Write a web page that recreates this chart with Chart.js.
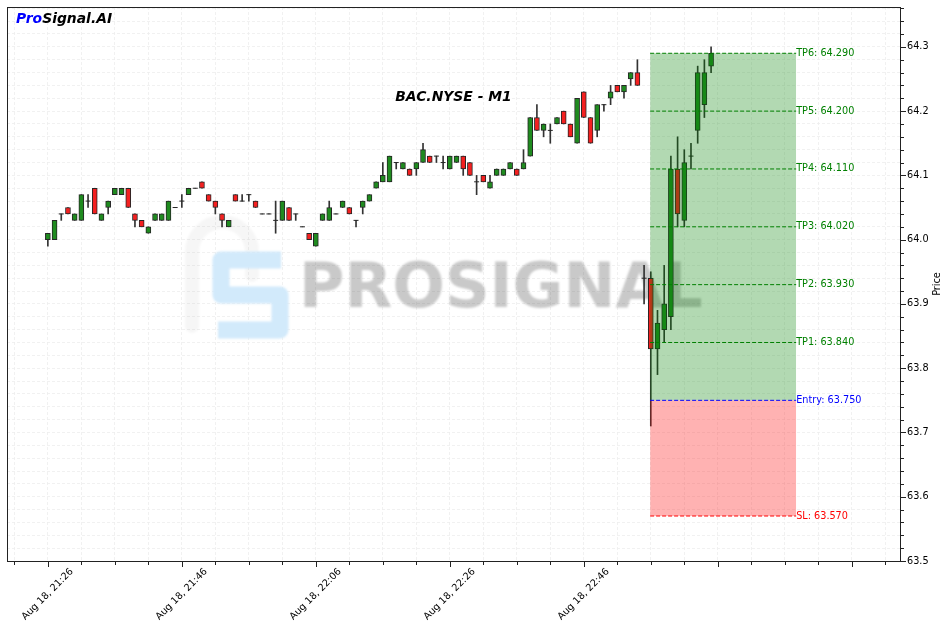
<!DOCTYPE html>
<html>
<head>
<meta charset="utf-8">
<script src="https://cdn.jsdelivr.net/npm/chart.js@4/dist/chart.umd.min.js"></script>
<style>
  html, body { margin: 0; padding: 0; background: #fff; }
</style>
</head>
<body>
<canvas id="grafico" width="950" height="632"></canvas>
<script>
// Datos de las velas (una por minuto desde Aug 18, 21:26)
const titulo = 'BAC.NYSE - M1';
const aperturas = [
  64.00, 64.00, 64.04, 64.05, 64.03, 64.03, 64.06, 64.08, 64.03, 64.05,
  64.07, 64.07, 64.08, 64.04, 64.03, 64.01, 64.03, 64.03, 64.03, 64.05,
  64.06, 64.07, 64.08, 64.09, 64.07, 64.06, 64.04, 64.02, 64.07, 64.06,
  64.07, 64.06, 64.04, 64.04, 64.03, 64.03, 64.05, 64.04, 64.02, 64.01,
  63.99, 64.03, 64.03, 64.04, 64.05, 64.05, 64.03, 64.05, 64.06, 64.08,
  64.09, 64.09, 64.12, 64.11, 64.11, 64.11, 64.12, 64.13, 64.13, 64.12,
  64.11, 64.12, 64.13, 64.12, 64.09, 64.10, 64.08, 64.10, 64.10, 64.11,
  64.11, 64.11, 64.13, 64.19, 64.17, 64.17, 64.18, 64.20, 64.18, 64.15,
  64.23, 64.19, 64.17, 64.21, 64.22, 64.24, 64.23, 64.25, 64.26, 63.94,
  63.94, 63.83, 63.86, 63.88, 64.11, 64.03, 64.13, 64.17, 64.21, 64.27
];
const maximos = [
  64.01, 64.03, 64.04, 64.05, 64.04, 64.07, 64.07, 64.08, 64.04, 64.06,
  64.08, 64.08, 64.08, 64.04, 64.03, 64.02, 64.04, 64.04, 64.06, 64.05,
  64.07, 64.08, 64.08, 64.09, 64.07, 64.06, 64.04, 64.03, 64.07, 64.07,
  64.07, 64.06, 64.04, 64.04, 64.06, 64.06, 64.05, 64.04, 64.02, 64.01,
  64.01, 64.04, 64.06, 64.04, 64.06, 64.05, 64.03, 64.06, 64.07, 64.09,
  64.12, 64.13, 64.12, 64.12, 64.11, 64.12, 64.15, 64.13, 64.13, 64.13,
  64.13, 64.13, 64.13, 64.12, 64.10, 64.10, 64.10, 64.11, 64.11, 64.12,
  64.11, 64.14, 64.19, 64.21, 64.18, 64.18, 64.19, 64.20, 64.18, 64.22,
  64.23, 64.19, 64.21, 64.21, 64.24, 64.24, 64.24, 64.26, 64.28, 63.96,
  63.95, 63.89, 63.96, 64.13, 64.16, 64.14, 64.15, 64.27, 64.28, 64.30
];
const minimos = [
  63.99, 64.00, 64.03, 64.04, 64.03, 64.03, 64.05, 64.04, 64.03, 64.04,
  64.07, 64.07, 64.05, 64.02, 64.02, 64.01, 64.03, 64.03, 64.03, 64.05,
  64.05, 64.07, 64.08, 64.08, 64.06, 64.04, 64.02, 64.02, 64.06, 64.06,
  64.06, 64.05, 64.04, 64.04, 64.01, 64.03, 64.03, 64.03, 64.02, 64.00,
  63.99, 64.03, 64.03, 64.04, 64.05, 64.04, 64.02, 64.04, 64.06, 64.08,
  64.09, 64.09, 64.11, 64.11, 64.10, 64.10, 64.12, 64.12, 64.12, 64.11,
  64.11, 64.12, 64.10, 64.10, 64.07, 64.09, 64.08, 64.10, 64.10, 64.11,
  64.10, 64.11, 64.13, 64.17, 64.16, 64.15, 64.18, 64.18, 64.16, 64.15,
  64.19, 64.15, 64.16, 64.20, 64.21, 64.23, 64.22, 64.24, 64.24, 63.90,
  63.71, 63.79, 63.84, 63.86, 64.02, 64.02, 64.11, 64.15, 64.19, 64.26
];
const cierres = [
  64.01, 64.03, 64.04, 64.04, 64.04, 64.07, 64.06, 64.04, 64.04, 64.06,
  64.08, 64.08, 64.05, 64.03, 64.02, 64.02, 64.04, 64.04, 64.06, 64.05,
  64.06, 64.08, 64.08, 64.08, 64.06, 64.05, 64.03, 64.03, 64.06, 64.06,
  64.07, 64.05, 64.04, 64.04, 64.03, 64.06, 64.03, 64.04, 64.02, 64.00,
  64.01, 64.04, 64.05, 64.04, 64.06, 64.04, 64.03, 64.06, 64.07, 64.09,
  64.10, 64.13, 64.12, 64.12, 64.10, 64.12, 64.14, 64.12, 64.13, 64.12,
  64.13, 64.13, 64.11, 64.10, 64.09, 64.09, 64.09, 64.11, 64.11, 64.12,
  64.10, 64.12, 64.19, 64.17, 64.18, 64.17, 64.19, 64.18, 64.16, 64.22,
  64.19, 64.15, 64.21, 64.21, 64.23, 64.23, 64.24, 64.26, 64.24, 63.94,
  63.83, 63.87, 63.90, 64.11, 64.04, 64.12, 64.13, 64.26, 64.26, 64.29
];

// Niveles de la señal
const nivelesNombre = ['TP6', 'TP5', 'TP4', 'TP3', 'TP2', 'TP1', 'Entry', 'SL'];
const nivelesPrecio = [64.29, 64.20, 64.11, 64.02, 63.93, 63.84, 63.75, 63.57];
const zonaInicio = 89.9;   // minutos desde 21:26
const zonaFin = 111.7;

// Ejes
const minutosEtiqueta = [0, 20, 40, 60, 80];
const etiquetasTiempo = ['Aug 18, 21:26', 'Aug 18, 21:46', 'Aug 18, 22:06', 'Aug 18, 22:26', 'Aug 18, 22:46'];
const ticksPrecio = [63.5, 63.6, 63.7, 63.8, 63.9, 64.0, 64.1, 64.2, 64.3];

const VERDE = '#1f8b1f';
const ROJO = '#f42020';
const FUENTE = 'DejaVu Sans';

function colorNivel(nombre) {
    if (nombre === 'Entry') return '#0000ff';
    if (nombre === 'SL') return '#ff0000';
    return '#008000';
}

const indices = aperturas.map((_, i) => i);
const mechas = indices.map(i => ({ x: i, y: [minimos[i], maximos[i]] }));
const conCuerpo = indices.filter(i => aperturas[i] !== cierres[i]);
const cuerpos = conCuerpo.map(i => ({ x: i, y: [Math.min(aperturas[i], cierres[i]), Math.max(aperturas[i], cierres[i])] }));
const coloresCuerpo = conCuerpo.map(i => cierres[i] > aperturas[i] ? VERDE : ROJO);
const dojis = indices.filter(i => aperturas[i] === cierres[i]).map(i => ({ x: i, y: aperturas[i] }));

const idxEntry = nivelesNombre.indexOf('Entry');
const idxSL = nivelesNombre.indexOf('SL');
const precioEntry = nivelesPrecio[idxEntry];
const precioTPmax = Math.max(...nivelesPrecio);

const datasets = [
    { type: 'bar', data: mechas, backgroundColor: '#333', barThickness: 1, grouped: false, order: 6 },
    { type: 'bar', data: cuerpos, backgroundColor: coloresCuerpo, borderColor: '#262626', borderWidth: 1,
      borderSkipped: false, barThickness: 5, grouped: false, order: 5 },
    { type: 'line', data: dojis, showLine: false, pointStyle: 'line', pointRadius: 2.5,
      pointBorderWidth: 1, pointBorderColor: '#262626', order: 5 },
    // zona de ganancia y de pérdida
    { type: 'line', data: [{ x: zonaInicio, y: precioTPmax }, { x: zonaFin, y: precioTPmax }],
      fill: { value: precioEntry }, backgroundColor: 'rgba(0,128,0,0.3)', borderWidth: 0, pointRadius: 0, order: 3 },
    { type: 'line', data: [{ x: zonaInicio, y: precioEntry }, { x: zonaFin, y: precioEntry }],
      fill: { value: nivelesPrecio[idxSL] }, backgroundColor: 'rgba(255,0,0,0.3)', borderWidth: 0, pointRadius: 0, order: 3 }
];
nivelesNombre.forEach((nombre, k) => {
    datasets.push({
        type: 'line',
        data: [{ x: zonaInicio, y: nivelesPrecio[k] }, { x: zonaFin, y: nivelesPrecio[k] }],
        borderColor: colorNivel(nombre), borderWidth: 1, borderDash: [4, 2], pointRadius: 0, fill: false, order: 1
    });
});

// Marca de agua, textos, marco y ticks
const decoracion = {
    id: 'decoracion',
    beforeDatasetsDraw(chart) {
        const ctx = chart.ctx;
        ctx.save();
        ctx.filter = 'blur(1px)';
        // logo
        ctx.lineCap = 'round';
        ctx.lineJoin = 'round';
        ctx.strokeStyle = 'rgba(0,0,0,0.035)';
        ctx.lineWidth = 14;
        ctx.beginPath();
        ctx.moveTo(192, 326);
        ctx.lineTo(192, 252);
        ctx.arc(222, 252, 30, Math.PI, 0);
        ctx.lineTo(252, 275);
        ctx.stroke();
        ctx.strokeStyle = '#d2eafb';
        ctx.lineWidth = 17;
        ctx.lineCap = 'butt';
        ctx.beginPath();
        ctx.moveTo(281, 260);
        ctx.lineTo(221, 260);
        ctx.lineTo(221, 295);
        ctx.lineTo(280, 295);
        ctx.lineTo(280, 330);
        ctx.lineTo(218, 330);
        ctx.stroke();
        // texto
        ctx.fillStyle = 'rgba(90,90,90,0.33)';
        ctx.font = `bold 62px "${FUENTE}"`;
        ctx.textBaseline = 'alphabetic';
        ctx.textAlign = 'left';
        ctx.fillText('PROSIGNAL', 299, 307);
        ctx.restore();
    },
    afterDatasetsDraw(chart) {
        const { ctx, chartArea, scales } = chart;
        ctx.save();
        ctx.font = `9.7px "${FUENTE}"`;
        ctx.textAlign = 'left';
        ctx.textBaseline = 'middle';
        const xEtiqueta = scales.x.getPixelForValue(zonaFin);
        nivelesNombre.forEach((nombre, k) => {
            ctx.fillStyle = colorNivel(nombre);
            ctx.fillText(`${nombre}: ${nivelesPrecio[k].toFixed(3)}`, xEtiqueta, scales.y.getPixelForValue(nivelesPrecio[k]));
        });
        ctx.font = `italic bold 13.9px "${FUENTE}"`;
        ctx.fillStyle = '#000';
        ctx.textAlign = 'center';
        ctx.fillText(titulo, (chartArea.left + chartArea.right) / 2, 97);
        ctx.textAlign = 'left';
        ctx.fillStyle = '#0000ff';
        ctx.fillText('Pro', 16, 19);
        const ancho = ctx.measureText('Pro').width;
        ctx.fillStyle = '#000';
        ctx.fillText('Signal.AI', 16 + ancho, 19);
        ctx.restore();
    },
    afterDraw(chart) {
        const { ctx, chartArea, scales } = chart;
        const { left, right, top, bottom } = chartArea;
        ctx.save();
        ctx.strokeStyle = '#222';
        ctx.lineWidth = 1;
        ctx.strokeRect(left + 0.5, top + 0.5, right - left, bottom - top);
        ctx.beginPath();
        scales.x.ticks.forEach(t => {
            const px = Math.round(scales.x.getPixelForValue(t.value)) + 0.5;
            const largo = t.value % 20 === 0 ? 5 : 3;
            ctx.moveTo(px, bottom + 1);
            ctx.lineTo(px, bottom + 1 + largo);
        });
        scales.y.ticks.forEach(t => {
            const py = Math.round(scales.y.getPixelForValue(t.value)) + 0.5;
            const mayor = ticksPrecio.some(p => Math.abs(p - t.value) < 1e-6);
            ctx.moveTo(right + 1, py);
            ctx.lineTo(right + 1 + (mayor ? 5 : 3), py);
        });
        ctx.stroke();
        ctx.translate(937, (top + bottom) / 2);
        ctx.rotate(-Math.PI / 2);
        ctx.font = `9.7px "${FUENTE}"`;
        ctx.fillStyle = '#000';
        ctx.textAlign = 'center';
        ctx.textBaseline = 'middle';
        ctx.fillText('Price', 0, 0);
        ctx.restore();
    }
};

const ctx = document.getElementById('grafico').getContext('2d');
new Chart(ctx, {
    type: 'bar',
    data: { datasets: datasets },
    options: {
        responsive: false,
        animation: false,
        devicePixelRatio: 1,
        layout: { padding: { left: 7, top: 7, right: 0, bottom: 0 } },
        plugins: { legend: { display: false }, tooltip: { enabled: false } },
        scales: {
            x: {
                type: 'linear', min: -6.1, max: 127.2, offset: false,
                afterBuildTicks: s => {
                    s.ticks = [];
                    for (let v = -5; v <= 125; v += 5) s.ticks.push({ value: v });
                },
                ticks: {
                    autoSkip: false, minRotation: 45, maxRotation: 45, labelOffset: 24, padding: 5,
                    color: '#000', font: { family: FUENTE, size: 9.7 },
                    callback: v => {
                        const k = minutosEtiqueta.indexOf(v);
                        return k >= 0 ? etiquetasTiempo[k] : '';
                    }
                },
                grid: { color: '#ededed', lineWidth: 0.8, drawTicks: false, offset: false },
                border: { display: false, dash: [3, 2] },
                afterFit: s => { s.height = 71; s.paddingLeft = 0; s.paddingRight = 0; }
            },
            y: {
                position: 'right', min: 63.5, max: 64.362,
                afterBuildTicks: s => {
                    s.ticks = [];
                    for (let k = 0; k <= 43; k++) s.ticks.push({ value: +(63.5 + k * 0.02).toFixed(2) });
                },
                ticks: {
                    autoSkip: false, padding: 7, color: '#000', font: { family: FUENTE, size: 9.7 },
                    callback: v => ticksPrecio.some(p => Math.abs(p - v) < 1e-6) ? v.toFixed(1) : ''
                },
                grid: { color: '#ededed', lineWidth: 0.8, drawTicks: false },
                border: { display: false, dash: [3, 2] },
                afterFit: s => { s.width = 50; s.paddingTop = 0; s.paddingBottom = 0; }
            }
        }
    },
    plugins: [decoracion]
});
</script>
</body>
</html>
